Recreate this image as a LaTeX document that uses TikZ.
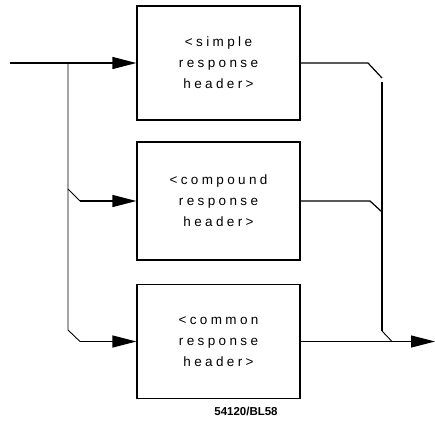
\documentclass[tikz,border=0pt]{standalone}
\usepackage{fontspec}
\setsansfont{Liberation Sans}[LetterSpace=25]
\usetikzlibrary{arrows.meta, positioning}
\tikzset{
  hdrbox/.style={draw, line width=1.2pt, minimum width=163pt, minimum height=114pt,
    align=center, font=\sffamily\fontsize{13.5}{21}\selectfont},
  flow/.style={line width=1.2pt},
  thinflow/.style={line width=0.9pt},
  tip/.style={-{Triangle[length=24pt,width=12pt]}}
}
\begin{document}
\begin{tikzpicture}[x=1pt,y=-1pt]
  \useasboundingbox (0,0) rectangle (435,424);
  % header alternatives
  \node[hdrbox] (simple) at (218.5,63) {<simple\\response\\header>};
  \node[hdrbox, minimum height=118pt] (compound) at (218.5,201) {<compound\\response\\header>};
  \node[hdrbox] (common) at (218.5,341.5) {<common\\response\\header>};
  \coordinate (in) at (10,63);
  \coordinate (split) at (68,63);
  \coordinate (out) at (435,341.5);
  % input side
  \draw[flow, tip] (in) -- (simple.west);
  \draw[thinflow] (split) -- (68,189) -- (80,201);
  \draw[flow, tip] (80,201) -- (compound.west);
  \draw[thinflow] (68,189) -- (68,330) -- (80,341.5);
  \draw[flow, tip] (80,341.5) -- (common.west);
  % output side
  \draw[flow] (simple.east) -- (368,63) -- (382,78);
  \draw[flow] (compound.east) -- (370,201) -- (382,212);
  \draw[line width=2.2pt] (382,82) -- (382,331);
  \draw[thinflow] (382,331) -- (392,341.5);
  \draw[flow, tip] (common.east) -- (out);
  \node[font=\sffamily\bfseries\fontsize{11.5}{13}\selectfont, inner sep=0pt] (fig) at (246,411) {\addfontfeature{LetterSpace=0}54120/BL58};
\end{tikzpicture}
\end{document}
